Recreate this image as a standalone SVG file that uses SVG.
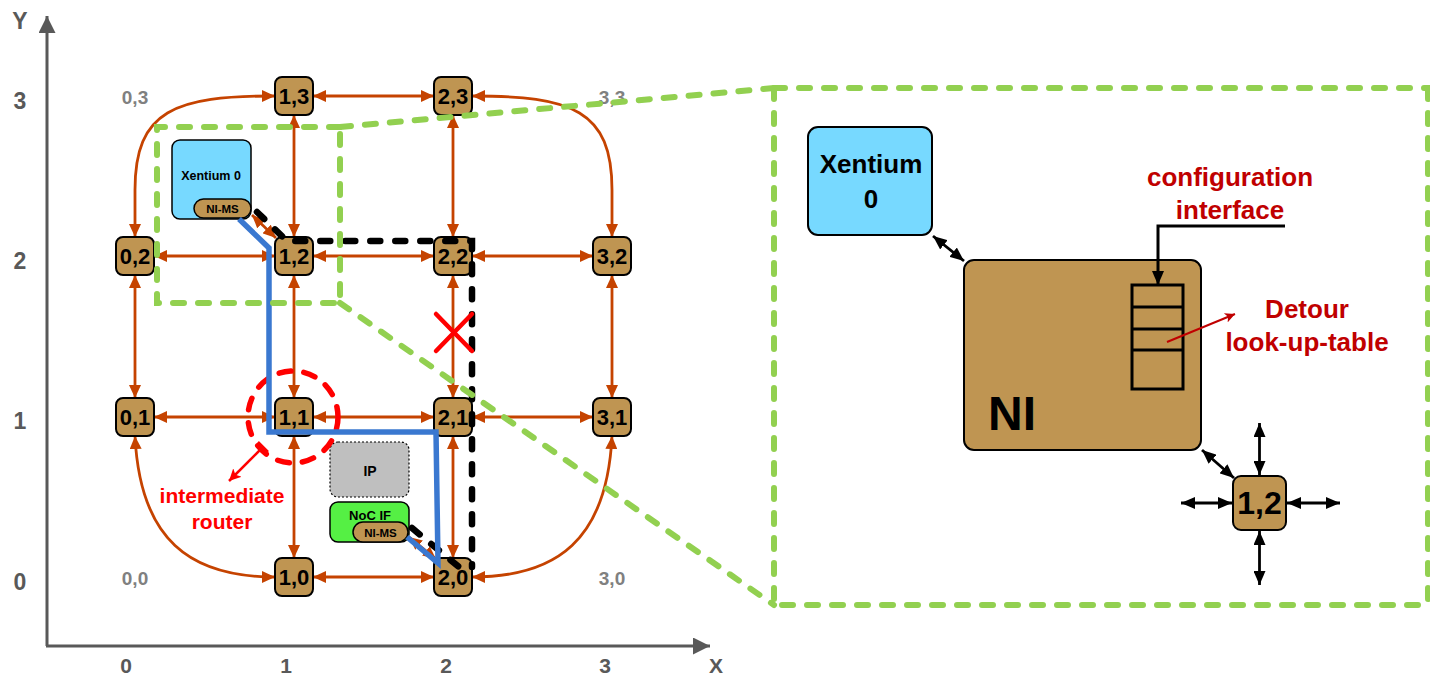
<svg xmlns="http://www.w3.org/2000/svg" width="1430" height="678" viewBox="0 0 1430 678">
<style>
.rt{fill:#BF9552;stroke:#000;stroke-width:2}
.rl{font-family:"Liberation Sans",Arial,sans-serif;font-weight:bold;font-size:22px;text-anchor:middle;fill:#000}
.cn{fill:none;stroke:#C54300;stroke-width:2.8;marker-start:url(#oa);marker-end:url(#oa)}
.bk{fill:none;stroke:#000;stroke-width:2.8;marker-start:url(#ba);marker-end:url(#ba)}
.ax{font-family:"Liberation Sans",Arial,sans-serif;font-weight:bold;font-size:23px;text-anchor:middle;fill:#595959}
.axb{font-family:"Liberation Sans",Arial,sans-serif;font-weight:bold;font-size:21px;text-anchor:middle;fill:#595959}
.cl{font-family:"Liberation Sans",Arial,sans-serif;font-weight:bold;font-size:19px;text-anchor:middle;fill:#808080}
.gd{fill:none;stroke:#92D050;stroke-width:6;stroke-linecap:round;stroke-dasharray:11 14}
.bd{fill:none;stroke:#000;stroke-width:6.5;stroke-linecap:round;stroke-dasharray:10 15}
.sm{font-family:"Liberation Sans",Arial,sans-serif;font-weight:bold;text-anchor:middle;fill:#000}
.rd{font-family:"Liberation Sans",Arial,sans-serif;font-weight:bold;text-anchor:middle;fill:#C00000;font-size:26px}
</style>
<defs>
<marker id="oa" viewBox="0 0 13 12" refX="13" refY="6" markerWidth="13" markerHeight="12" markerUnits="userSpaceOnUse" orient="auto-start-reverse"><path d="M0,0 L13,6 L0,12 Z" fill="#C54300"/></marker>
<marker id="ba" viewBox="0 0 14 12" refX="14" refY="6" markerWidth="14" markerHeight="12" markerUnits="userSpaceOnUse" orient="auto-start-reverse"><path d="M0,0 L14,6 L0,12 Z" fill="#000"/></marker>
<marker id="ra" viewBox="0 0 12 12" refX="12" refY="6" markerWidth="12" markerHeight="12" markerUnits="userSpaceOnUse" orient="auto-start-reverse"><path d="M0,0 L12,6 L0,12 L3,6 Z" fill="#FF0000"/></marker>
<marker id="dr" viewBox="0 0 12 12" refX="12" refY="6" markerWidth="11" markerHeight="10" markerUnits="userSpaceOnUse" orient="auto"><path d="M0,0 L12,6 L0,12 L3,6 Z" fill="#C00000"/></marker>
<marker id="ga" viewBox="0 0 12 12" refX="12" refY="6" markerWidth="18" markerHeight="17" markerUnits="userSpaceOnUse" orient="auto"><path d="M0,0 L12,6 L0,12 Z" fill="#595959"/></marker>
</defs>
<rect width="1430" height="678" fill="#fff"/>

<!-- axes -->
<g id="axes">
<line x1="47" y1="646" x2="47" y2="16" stroke="#595959" stroke-width="3" marker-end="url(#ga)"/>
<line x1="46" y1="646" x2="710" y2="646" stroke="#595959" stroke-width="3" marker-end="url(#ga)"/>
<text x="20" y="29" class="ax">Y</text>
<text x="20" y="109" class="ax">3</text>
<text x="20" y="269" class="ax">2</text>
<text x="20" y="429" class="ax">1</text>
<text x="20" y="590" class="ax">0</text>
<text x="126" y="673" class="axb">0</text>
<text x="286" y="673" class="axb">1</text>
<text x="446" y="673" class="axb">2</text>
<text x="605" y="673" class="axb">3</text>
<text x="716" y="673" class="axb">X</text>
<text x="135" y="104" class="cl">0,3</text>
<text x="612" y="104" class="cl">3,3</text>
<text x="135" y="585" class="cl">0,0</text>
<text x="612" y="585" class="cl">3,0</text>
</g>

<!-- connectors -->
<g id="connectors">
<line x1="313" y1="96" x2="434" y2="96" class="cn"/>
<line x1="154" y1="256" x2="275" y2="256" class="cn"/>
<line x1="313" y1="256" x2="434" y2="256" class="cn"/>
<line x1="472" y1="256" x2="593" y2="256" class="cn"/>
<line x1="154" y1="417" x2="275" y2="417" class="cn"/>
<line x1="313" y1="417" x2="434" y2="417" class="cn"/>
<line x1="472" y1="417" x2="593" y2="417" class="cn"/>
<line x1="313" y1="577" x2="434" y2="577" class="cn"/>
<line x1="135" y1="275" x2="135" y2="398" class="cn"/>
<line x1="294" y1="115" x2="294" y2="237" class="cn"/>
<line x1="294" y1="275" x2="294" y2="398" class="cn"/>
<line x1="294" y1="436" x2="294" y2="558" class="cn"/>
<line x1="453" y1="115" x2="453" y2="237" class="cn"/>
<line x1="453" y1="275" x2="453" y2="398" class="cn"/>
<line x1="453" y1="436" x2="453" y2="558" class="cn"/>
<line x1="612" y1="275" x2="612" y2="398" class="cn"/>
<path d="M275 96 C175 96 135 110 135 190 L135 237" class="cn"/>
<path d="M472 96 C572 96 612 110 612 190 L612 237" class="cn"/>
<path d="M135 436 C140 540 190 577 275 577" class="cn"/>
<path d="M612 436 C607 540 557 577 472 577" class="cn"/>
<line x1="252" y1="215" x2="276" y2="238" class="cn"/>
<line x1="409" y1="537" x2="436" y2="559" class="cn"/>
</g>

<!-- routers -->
<g id="r13"><rect x="275" y="77" width="38" height="38" rx="7" class="rt"/><text x="294" y="104" class="rl">1,3</text></g>
<g id="r23"><rect x="434" y="77" width="38" height="38" rx="7" class="rt"/><text x="453" y="104" class="rl">2,3</text></g>
<g id="r02"><rect x="116" y="237" width="38" height="38" rx="7" class="rt"/><text x="135" y="264" class="rl">0,2</text></g>
<g id="r12"><rect x="275" y="237" width="38" height="38" rx="7" class="rt"/><text x="294" y="264" class="rl">1,2</text></g>
<g id="r22"><rect x="434" y="237" width="38" height="38" rx="7" class="rt"/><text x="453" y="264" class="rl">2,2</text></g>
<g id="r32"><rect x="593" y="237" width="38" height="38" rx="7" class="rt"/><text x="612" y="264" class="rl">3,2</text></g>
<g id="r01"><rect x="116" y="398" width="38" height="38" rx="7" class="rt"/><text x="135" y="425" class="rl">0,1</text></g>
<g id="r11"><rect x="275" y="398" width="38" height="38" rx="7" class="rt"/><text x="294" y="425" class="rl">1,1</text></g>
<g id="r21"><rect x="434" y="398" width="38" height="38" rx="7" class="rt"/><text x="453" y="425" class="rl">2,1</text></g>
<g id="r31"><rect x="593" y="398" width="38" height="38" rx="7" class="rt"/><text x="612" y="425" class="rl">3,1</text></g>
<g id="r10"><rect x="275" y="558" width="38" height="38" rx="7" class="rt"/><text x="294" y="585" class="rl">1,0</text></g>
<g id="r20"><rect x="434" y="558" width="38" height="38" rx="7" class="rt"/><text x="453" y="585" class="rl">2,0</text></g>

<!-- Xentium small -->
<g id="xentium-small">
<rect x="172" y="140" width="79" height="79" rx="8" fill="#77D9FF" stroke="#000" stroke-width="1.5"/>
<text x="211" y="180" class="sm" font-size="12.5">Xentium 0</text>
<rect x="194" y="199" width="57" height="19" rx="9.5" fill="#BF9552" stroke="#000" stroke-width="1.5"/>
<text x="222.5" y="213" class="sm" font-size="11.5">NI-MS</text>
</g>

<!-- IP / NoC IF -->
<g id="ip">
<rect x="330" y="442" width="79" height="55" rx="8" fill="#BFBFBF" stroke="#000" stroke-width="1.2" stroke-dasharray="2 2"/>
<text x="370" y="476" class="sm" font-size="14">IP</text>
</g>
<g id="nocif">
<rect x="330" y="502" width="79" height="40" rx="8" fill="#55F044" stroke="#000" stroke-width="1.5"/>
<text x="370" y="520" class="sm" font-size="13">NoC IF</text>
<rect x="353" y="522" width="55" height="20" rx="10" fill="#BF9552" stroke="#000" stroke-width="1.5"/>
<text x="380.5" y="536.5" class="sm" font-size="11.5">NI-MS</text>
</g>

<!-- overlays -->
<g id="paths">
<ellipse cx="293" cy="417" rx="45" ry="46" fill="none" stroke="#FF0000" stroke-width="5.5" stroke-linecap="round" stroke-dasharray="12 13"/>
<path d="M257 212 L287 241 L472 241 L472 567" class="bd"/>
<path d="M412 528 L465 572" class="bd"/>
<path d="M239 219 L269 248 L269 432 L436 432 L438 563 L407 537" fill="none" stroke="#3A78D0" stroke-width="5.5" stroke-linejoin="miter"/>
<line x1="436" y1="314" x2="472" y2="351" stroke="#FF0000" stroke-width="4.5" stroke-linecap="round"/>
<line x1="472" y1="314" x2="436" y2="351" stroke="#FF0000" stroke-width="4.5" stroke-linecap="round"/>
<line x1="263" y1="447" x2="229" y2="481" stroke="#FF0000" stroke-width="2.5" marker-end="url(#ra)"/>
<line x1="258" y1="442" x2="268" y2="452" stroke="#FF0000" stroke-width="2.5"/>
<text x="222" y="503" class="sm" font-size="21" style="fill:#FF0000">intermediate</text>
<text x="222" y="529" class="sm" font-size="21" style="fill:#FF0000">router</text>
</g>

<!-- zoom region -->
<g id="zoom-region">
<path d="M340 127 L157 127 L157 303 L340 303 Z" class="gd"/>
<path d="M340 127 L774 88" class="gd"/>
<path d="M340 303 L774 605" class="gd"/>
<path d="M774 88 L1430 88 M774 88 L774 605 L1430 605 M1428 88 L1428 605" class="gd"/>
</g>

<!-- right panel -->
<g id="xentium-big">
<rect x="808" y="127" width="124" height="108" rx="10" fill="#77D9FF" stroke="#000" stroke-width="2"/>
<text x="871" y="173" class="sm" font-size="26">Xentium</text>
<text x="871" y="208" class="sm" font-size="26">0</text>
</g>
<g id="ni">
<rect x="964" y="260" width="237" height="190" rx="10" fill="#BF9552" stroke="#000" stroke-width="2"/>
<text x="988" y="430" font-family="Liberation Sans, Arial, sans-serif" font-weight="bold" font-size="48" fill="#000">NI</text>
</g>
<g id="lut">
<rect x="1132" y="285" width="51" height="104" fill="none" stroke="#000" stroke-width="3"/>
<line x1="1132" y1="307" x2="1183" y2="307" stroke="#000" stroke-width="3"/>
<line x1="1132" y1="329" x2="1183" y2="329" stroke="#000" stroke-width="3"/>
<line x1="1132" y1="350" x2="1183" y2="350" stroke="#000" stroke-width="3"/>
</g>
<g id="router12-big">
<rect x="1233" y="476" width="53" height="54" rx="8" class="rt"/>
<text x="1259.5" y="514" class="sm" font-size="32">1,2</text>
</g>
<g id="labels">
<text x="1230" y="186" class="rd">configuration</text>
<text x="1230" y="219" class="rd">interface</text>
<text x="1307" y="318" class="rd">Detour</text>
<text x="1307" y="351" class="rd">look-up-table</text>
</g>
<g id="connectors-right">
<path d="M1285 226 L1158 226 L1158 285" fill="none" stroke="#000" stroke-width="3" marker-end="url(#ba)"/>
<line x1="1167" y1="342" x2="1235" y2="314" stroke="#C00000" stroke-width="2" marker-end="url(#dr)"/>
<line x1="933" y1="236" x2="964" y2="261" class="bk"/>
<line x1="1202" y1="450" x2="1234" y2="478" class="bk"/>
<line x1="1259.5" y1="475" x2="1259.5" y2="423" class="bk"/>
<line x1="1259.5" y1="531" x2="1259.5" y2="585" class="bk"/>
<line x1="1232" y1="503" x2="1181" y2="503" class="bk"/>
<line x1="1287" y1="503" x2="1340" y2="503" class="bk"/>
</g>
</svg>
